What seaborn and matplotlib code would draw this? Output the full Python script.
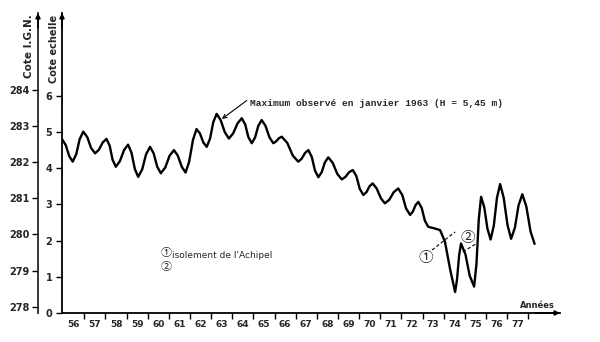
import matplotlib
matplotlib.use("Agg")
import matplotlib.pyplot as plt
import seaborn as sns
import pandas as pd

# ---------------- data ----------------
years = [55.96, 56.12, 56.29, 56.45, 56.62, 56.78, 56.95, 57.14, 57.32, 57.51,
         57.69, 57.87, 58.05, 58.20, 58.34, 58.49, 58.68, 58.88, 59.07, 59.23,
         59.39, 59.55, 59.74, 59.92, 60.11, 60.28, 60.45, 60.62, 60.83, 61.03,
         61.24, 61.42, 61.61, 61.79, 61.96, 62.14, 62.31, 62.47, 62.63, 62.79,
         62.95, 63.10, 63.26, 63.45, 63.65, 63.84, 64.04, 64.25, 64.45, 64.61,
         64.76, 64.92, 65.08, 65.23, 65.39, 65.57, 65.76, 65.94, 66.07, 66.21,
         66.34, 66.60, 66.86, 67.12, 67.28, 67.44, 67.60, 67.76, 67.91, 68.07,
         68.23, 68.38, 68.54, 68.75, 68.97, 69.18, 69.35, 69.53, 69.70, 69.87,
         70.03, 70.20, 70.35, 70.49, 70.64, 70.83, 71.03, 71.22, 71.43, 71.64,
         71.85, 72.04, 72.22, 72.41, 72.54, 72.67, 72.80, 72.96, 73.11, 73.27,
         73.55, 73.83, 74.06, 74.30, 74.54, 74.63, 74.73, 74.82, 75.03, 75.23,
         75.44, 75.55, 75.66, 75.77, 75.92, 76.07, 76.22, 76.37, 76.52, 76.67,
         76.84, 77.02, 77.19, 77.37, 77.54, 77.72, 77.91, 78.11, 78.30]
cote_echelle = [4.79, 4.64, 4.33, 4.18, 4.39, 4.80, 5.01, 4.86, 4.56, 4.41,
                4.51, 4.71, 4.81, 4.62, 4.23, 4.04, 4.19, 4.50, 4.65, 4.43,
                3.98, 3.76, 3.97, 4.38, 4.59, 4.41, 4.04, 3.86, 4.02, 4.34,
                4.50, 4.35, 4.04, 3.88, 4.18, 4.78, 5.08, 4.96, 4.71, 4.59,
                4.82, 5.27, 5.50, 5.33, 4.99, 4.82, 4.96, 5.24, 5.38, 5.21,
                4.86, 4.69, 4.85, 5.17, 5.33, 5.17, 4.85, 4.69, 4.74, 4.83,
                4.87, 4.70, 4.35, 4.18, 4.26, 4.42, 4.50, 4.31, 3.94, 3.75,
                3.89, 4.16, 4.30, 4.15, 3.84, 3.69, 3.76, 3.89, 3.95, 3.78,
                3.43, 3.26, 3.34, 3.50, 3.58, 3.44, 3.17, 3.03, 3.13, 3.34,
                3.44, 3.26, 2.89, 2.71, 2.80, 2.98, 3.07, 2.90, 2.55, 2.38,
                2.34, 2.29, 1.97, 1.22, 0.58, 0.92, 1.59, 1.92, 1.62, 1.03,
                0.73, 1.35, 2.59, 3.21, 2.92, 2.33, 2.03, 2.41, 3.18, 3.56,
                3.18, 2.43, 2.05, 2.36, 2.97, 3.28, 2.94, 2.25, 1.91]

year_ticks = list(range(57, 79))
year_label_pos = [y - 0.5 for y in year_ticks]
year_labels = [str(y - 1) for y in year_ticks]
echelle_ticks = [0, 1, 2, 3, 4, 5, 6]
ign_ticks = [278, 279, 280, 281, 282, 283, 284]
IGN_OFFSET = 277.83

max_point = (63.51, 5.36)
max_text_pos = (64.84, 5.80)
max_text = "Maximum observé en janvier 1963 (H = 5,45 m)"

dash1_x = [73.45, 74.54]
dash1_y = [1.74, 2.24]
dash2_x = [74.91, 75.53]
dash2_y = [1.69, 1.91]
mark1_pos = (73.17, 1.52)
mark2_pos = (75.15, 2.07)

legend1_pos = (60.87, 1.65)
legend2_pos = (60.87, 1.28)
legend_text_pos = (61.13, 1.58)
legend_text = "isolement de l'Achipel"

# ---------------- figure ----------------
sns.set_style("white")
plt.rcParams["font.family"] = ["DejaVu Sans", "Noto Sans CJK JP"]

fig = plt.figure(figsize=(6, 3.42), dpi=100)
ax = fig.add_axes([62 / 600, 29 / 342, 498 / 600, 300 / 342])

df = pd.DataFrame({"annee": years, "cote": cote_echelle})
sns.lineplot(data=df, x="annee", y="cote", ax=ax, color="black",
             linewidth=1.7, sort=False, estimator=None)

ax.set_xlim(55.945, 55.945 + 498 / 21.14)
ax.set_ylim(0, 300 / 36.2)
ax.set_xlabel("")
ax.set_ylabel("")

for s in ["top", "right"]:
    ax.spines[s].set_visible(False)
for s in ["left", "bottom"]:
    ax.spines[s].set_linewidth(1.3)
    ax.spines[s].set_color("black")

# x ticks: marks at year boundaries, labels centred in each year
ax.set_xticks(year_ticks)
ax.set_xticklabels([])
ax.set_xticks(year_label_pos, minor=True)
ax.set_xticklabels(year_labels, minor=True, fontsize=6.5, fontweight="bold")
ax.tick_params(axis="x", which="major", direction="out", length=4.5,
               width=1.0, color="black", bottom=True)
ax.tick_params(axis="x", which="minor", length=0, pad=5, bottom=True)

ax.set_yticks(echelle_ticks)
ax.set_yticklabels([str(v) for v in echelle_ticks], fontsize=7,
                   fontweight="bold")
ax.tick_params(axis="y", direction="out", length=4, width=1.0,
               color="black", pad=3, left=True)

# second (I.G.N.) axis
sec = ax.secondary_yaxis(-24 / 498,
                         functions=(lambda e: e + IGN_OFFSET,
                                    lambda v: v - IGN_OFFSET))
sec.set_yticks(ign_ticks)
sec.set_yticklabels([str(v) for v in ign_ticks], fontsize=7,
                    fontweight="bold")
sec.tick_params(axis="y", direction="out", length=4, width=1.0,
                color="black", pad=2)
sec.spines["left"].set_linewidth(1.3)

# axis arrows
arrow_kw = dict(arrowstyle="-|>", color="black", lw=1.2, mutation_scale=7,
                shrinkA=0, shrinkB=0)
ax.annotate("", xy=(0, 1.0), xytext=(0, 0.95), xycoords="axes fraction",
            arrowprops=arrow_kw, annotation_clip=False)
ax.annotate("", xy=(-24 / 498, 1.0), xytext=(-24 / 498, 0.95),
            xycoords="axes fraction", arrowprops=arrow_kw,
            annotation_clip=False)
ax.annotate("", xy=(1.0, 0), xytext=(0.95, 0), xycoords="axes fraction",
            arrowprops=arrow_kw, annotation_clip=False)

# axis titles
ax.text(-33 / 498, 0.995, "Cote I.G.N.", transform=ax.transAxes,
        rotation=90, ha="center", va="top", fontsize=7.5, fontweight="bold")
ax.text(-8 / 498, 0.995, "Cote echelle", transform=ax.transAxes,
        rotation=90, ha="center", va="top", fontsize=7, fontweight="bold")
ax.text(78.41, 0.08, "Années", ha="center", va="bottom", fontsize=6,
        fontweight="bold")

# maximum annotation
ax.annotate(max_text, xy=max_point, xytext=max_text_pos, ha="left",
            va="center", fontsize=6.8, fontweight="bold",
            family="Liberation Mono",
            arrowprops=dict(arrowstyle="->", color="black", lw=0.8,
                            relpos=(-0.005, 0.95), shrinkA=0, shrinkB=0))

# isolation marks
ax.plot(dash1_x, dash1_y, color="black", lw=0.8, linestyle=(0, (3, 2)))
ax.plot(dash2_x, dash2_y, color="black", lw=0.8, linestyle=(0, (3, 2)))
ax.text(*mark1_pos, "①", ha="center", va="center", fontsize=10.5,
        family=["Noto Sans CJK JP", "DejaVu Sans"])
ax.text(*mark2_pos, "②", ha="center", va="center", fontsize=10.5,
        family=["Noto Sans CJK JP", "DejaVu Sans"])

# legend text
ax.text(*legend1_pos, "①", ha="center", va="center", fontsize=8,
        family=["Noto Sans CJK JP", "DejaVu Sans"])
ax.text(*legend2_pos, "②", ha="center", va="center", fontsize=8,
        family=["Noto Sans CJK JP", "DejaVu Sans"])
ax.text(*legend_text_pos, legend_text, ha="left", va="center", fontsize=6.5)

fig.savefig("out.png", dpi=100, facecolor="white")
